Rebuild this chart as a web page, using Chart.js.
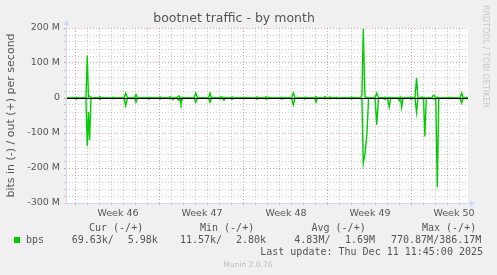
<!DOCTYPE html>
<html>
<head>
<meta charset="utf-8">
<script src="https://cdn.jsdelivr.net/npm/chart.js@4.4.1/dist/chart.umd.min.js"></script>
<style>
  body { margin: 0; background: #F0F0F0; }
  #wrap { width: 497px; height: 275px; }
</style>
</head>
<body>
<div id="wrap"><canvas id="myChart" width="497" height="275"></canvas></div>
<script>
// time axis: days since Mon 10 Nov 2025 (start of week 46)
const days = [
  -0.83, -0.08, 0.04, 0.17, 0.83, 0.94, 1.04, 1.13, 1.25, 1.88, 2.0, 2.13,
  2.96, 3.08, 3.21, 4.0, 4.14, 4.29, 4.88, 5.0, 5.13, 5.96, 6.08, 6.21,
  6.88, 7.0, 7.13, 7.71, 7.83, 7.96, 8.08, 8.21, 8.42, 8.56, 8.67, 8.75, 8.88,
  9.83, 9.98, 10.13, 11.04, 11.17, 11.29, 11.88, 12.0, 12.17, 12.33, 12.46,
  12.88, 13.0, 13.13, 13.88, 14.0, 14.13, 14.96, 15.08, 15.21,
  15.71, 15.83, 15.96, 16.08, 16.21, 17.0, 17.14, 17.25, 17.96, 18.11, 18.25,
  18.96, 19.08, 19.21, 19.88, 20.0, 20.13, 20.63, 20.75, 20.88, 21.04, 21.17, 21.29,
  21.58, 21.73, 21.83, 22.83, 22.98, 23.08,
  23.71, 23.83, 23.94, 24.08, 24.25, 24.38, 24.92, 25.06, 25.21,
  25.63, 25.75, 25.88, 25.96, 26.1, 26.23, 26.83, 26.94, 27.04, 27.14, 27.25,
  27.79, 27.92, 28.04, 28.25, 28.38, 28.5, 28.71, 28.83, 28.96, 29.07, 29.19,
  29.63, 29.75, 29.86, 29.98, 30.11, 30.23, 31.04, 31.17, 31.29,
  32.0, 32.14, 32.27, 32.42, 32.54, 32.67
];
// out (+), Mbit/s
const outM = [
  0, 0, 2, 0, 0, 121, 3, 5, 0, 0, 4, 0,
  0, 2, 0, 0, 14, 0, 0, 10, 0, 0, 2, 0,
  0, 3, 0, 0, 4, 0, 1, 0, 0, 6, 2, 2, 0,
  0, 14, 0, 0, 14, 0, 0, 3, 2, 1, 0,
  0, 3, 0, 0, 2, 0, 0, 3, 0,
  0, 4, 0, 2, 0, 0, 2, 0, 0, 14, 0,
  0, 2, 0, 0, 4, 0, 0, 4, 0, 0, 3, 0,
  0, 2, 0, 0, 3, 0,
  0, 10, 197, 3, 2, 0, 0, 14, 0,
  0, 2, 0, 0, 2, 0, 0, 2, 0, 1, 0,
  0, 3, 0, 0, 57, 0, 0, 3, 0, 1, 0,
  0, 6, 8, 0, 2, 0, 0, 2, 0,
  0, 14, 0, 0, 2, 0
];
// in (-), Mbit/s
const inM = [
  0, 0, 3, 0, 0, 137, 40, 120, 0, 0, 4, 0,
  0, 2, 0, 0, 22, 0, 0, 12, 0, 0, 3, 0,
  0, 3, 0, 0, 2, 0, 5, 0, 0, 7, 3, 16, 0,
  0, 12, 0, 0, 12, 0, 0, 2, 1, 6, 0,
  0, 4, 0, 0, 2, 0, 0, 4, 0,
  0, 3, 0, 2, 0, 0, 3, 0, 0, 19, 0,
  0, 3, 0, 0, 12, 0, 0, 2, 0, 0, 2, 0,
  0, 2, 0, 0, 3, 0,
  0, 5, 186, 160, 100, 0, 0, 76, 0,
  0, 4, 0, 0, 26, 0, 0, 8, 0, 27, 0,
  0, 3, 0, 0, 41, 0, 0, 2, 0, 110, 0,
  0, 2, 3, 0, 254, 0, 0, 2, 0,
  0, 14, 0, 0, 2, 0
];
const weekLabels = ['Week 46', 'Week 47', 'Week 48', 'Week 49', 'Week 50'];
const legendHead = ['Cur (-/+)', 'Min (-/+)', 'Avg (-/+)', 'Max (-/+)'];
const legendVals = ['69.63k/', '5.98k', '11.57k/', '2.80k', '4.83M/', '1.69M', '770.87M/386.17M'];

const green = '#00CC00';
const majorGrid = 'rgba(210,60,60,0.5)';
const minorGrid = 'rgba(140,140,140,0.45)';
const axisColor = '#CFD6F8';
const fontColor = '#555555';

const xTicks = [];
for (let d = 0; d <= 32; d++) xTicks.push(d);
for (let w = 0; w < 5; w++) xTicks.push(w * 7 + 3.5);
xTicks.sort((a, b) => a - b);
const yTicks = [];
for (let v = -300; v <= 200; v += 20) yTicks.push(v);

const frame = {
  id: 'frame',
  beforeDraw(chart) {
    const { ctx, chartArea: a } = chart;
    ctx.save();
    ctx.fillStyle = '#F0F0F0';
    ctx.fillRect(0, 0, chart.width, chart.height);
    ctx.fillStyle = '#FFFFFF';
    ctx.fillRect(a.left, a.top, a.right - a.left, a.bottom - a.top);
    ctx.restore();
  },
  afterDatasetsDraw(chart) {
    const { ctx, chartArea: a, scales } = chart;
    const y0 = Math.round(scales.y.getPixelForValue(0));
    const ax = Math.round(a.left) + 0.5;
    const ay = Math.round(a.bottom) + 0.5;
    ctx.save();
    ctx.fillStyle = '#000000';
    ctx.fillRect(a.left, y0, a.right - a.left, 1);
    // axes with arrows
    ctx.strokeStyle = axisColor;
    ctx.fillStyle = axisColor;
    ctx.lineWidth = 1;
    ctx.beginPath();
    ctx.moveTo(ax, ay);
    ctx.lineTo(ax, a.top - 3);
    ctx.moveTo(ax - 2, ay);
    ctx.lineTo(a.right + 2, ay);
    ctx.stroke();
    ctx.beginPath();
    ctx.moveTo(ax, a.top - 8);
    ctx.lineTo(ax - 3, a.top - 3);
    ctx.lineTo(ax + 3, a.top - 3);
    ctx.closePath();
    ctx.fill();
    ctx.beginPath();
    ctx.moveTo(a.right + 7, ay);
    ctx.lineTo(a.right + 2, ay - 3);
    ctx.lineTo(a.right + 2, ay + 3);
    ctx.closePath();
    ctx.fill();
    ctx.restore();
  },
  afterDraw(chart) {
    const ctx = chart.ctx;
    ctx.save();
    ctx.fillStyle = fontColor;
    ctx.font = '10px "DejaVu Sans Mono"';
    ctx.textBaseline = 'alphabetic';
    ctx.textAlign = 'left';
    const headX = [89, 200, 311.5, 422];
    legendHead.forEach((t, i) => ctx.fillText(t, headX[i], 231));
    ctx.fillStyle = green;
    ctx.fillRect(14, 237, 6, 6);
    ctx.fillStyle = fontColor;
    ctx.fillText('bps', 26, 243);
    const valX = [71.7, 127.7, 180, 236, 294.3, 345, 391];
    legendVals.forEach((t, i) => ctx.fillText(t, valX[i], 243));
    ctx.textAlign = 'right';
    ctx.fillText('Last update: Thu Dec 11 11:45:00 2025', 483, 255);
    ctx.textAlign = 'center';
    ctx.fillStyle = '#BBBBBB';
    ctx.font = '7.5px "DejaVu Sans"';
    ctx.fillText('Munin 2.0.76', 248, 267);
    ctx.translate(485, 5);
    ctx.rotate(Math.PI / 2);
    ctx.textAlign = 'left';
    ctx.textBaseline = 'middle';
    ctx.fillStyle = '#C8C8C8';
    ctx.font = '8px "DejaVu Sans"';
    ctx.fillText('RRDTOOL / TOBI OETIKER', 0, 0);
    ctx.restore();
  }
};

const lineStyle = {
  borderColor: green,
  backgroundColor: green,
  borderWidth: 1.4,
  pointRadius: 0,
  tension: 0,
  fill: false
};

let myChart = new Chart(
  document.getElementById('myChart'),
  {
    type: 'line',
    data: {
      datasets: [
        Object.assign({ label: 'out', data: days.map((d, i) => ({ x: d, y: outM[i] })) }, lineStyle),
        Object.assign({ label: 'in', data: days.map((d, i) => ({ x: d, y: -inM[i] })) }, lineStyle)
      ]
    },
    options: {
      responsive: false,
      animation: false,
      layout: { padding: { left: 0, right: 29, top: 0, bottom: 52 } },
      plugins: {
        legend: { display: false },
        tooltip: { enabled: false },
        title: {
          display: true,
          text: 'bootnet traffic - by month',
          color: fontColor,
          font: { family: 'DejaVu Sans', size: 12.5, weight: 'normal' },
          padding: { top: 11.5, bottom: 1.5 }
        }
      },
      scales: {
        x: {
          type: 'linear',
          min: -0.833,
          max: 32.667,
          afterBuildTicks: s => { s.ticks = xTicks.map(v => ({ value: v })); },
          afterFit: s => { s.height = 20; },
          border: { display: false, dash: [1, 2] },
          grid: {
            color: c => c.tick.value % 7 === 0 ? majorGrid : (Number.isInteger(c.tick.value) ? minorGrid : 'rgba(0,0,0,0)'),
            tickLength: 2
          },
          ticks: {
            autoSkip: false,
            maxRotation: 0,
            padding: 3,
            color: fontColor,
            font: { family: 'DejaVu Sans', size: 9.5 },
            callback: v => Number.isInteger(v) ? '' : weekLabels[Math.floor(v / 7)]
          }
        },
        y: {
          min: -300,
          max: 200,
          afterBuildTicks: s => { s.ticks = yTicks.map(v => ({ value: v })); },
          afterFit: s => { s.width = 66; },
          border: { display: false, dash: [1, 2] },
          grid: {
            color: c => c.tick.value % 100 === 0 ? majorGrid : minorGrid,
            tickLength: 2
          },
          title: {
            display: true,
            text: 'bits in (-) / out (+) per second',
            color: fontColor,
            font: { family: 'DejaVu Sans', size: 11 },
            padding: { top: 5, bottom: 0 }
          },
          ticks: {
            autoSkip: false,
            padding: 4,
            color: fontColor,
            font: { family: 'DejaVu Sans', size: 9.5 },
            callback: v => v === 0 ? '0' : (v % 100 === 0 ? v + ' M' : '')
          }
        }
      }
    },
    plugins: [frame]
  }
);
</script>
</body>
</html>
